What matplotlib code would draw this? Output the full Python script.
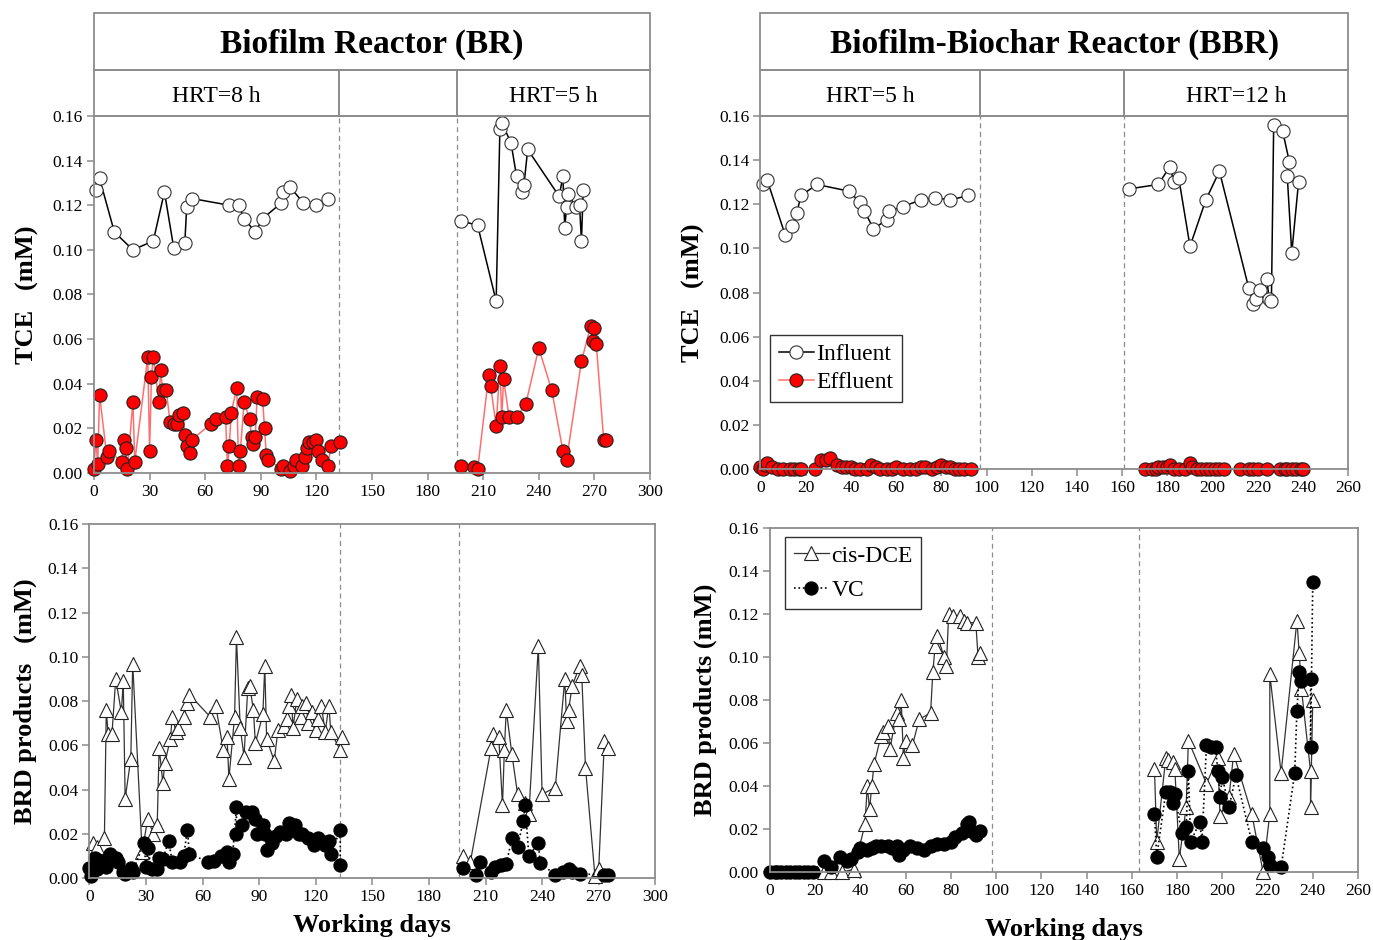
import numpy as np
import matplotlib
matplotlib.use('Agg')
import matplotlib.pyplot as plt
from matplotlib.patches import Rectangle

plt.rcParams['font.family'] = ['Liberation Serif', 'DejaVu Serif']

# ---- Biofilm Reactor (BR), TCE ----
br_inf_days = [1, 3, 11, 21, 32, 38, 43, 49, 50, 53, 73, 78, 81, 87, 91, 101, 102, 106, 113, 120, 126,
               198, 207, 217, 219, 220, 225, 228, 231, 232, 234, 251, 253, 254, 255, 256, 260, 262, 263, 264]
br_inf_vals = [0.127, 0.132, 0.108, 0.100, 0.104, 0.126, 0.101, 0.103, 0.119, 0.123, 0.120, 0.120, 0.114,
               0.108, 0.114, 0.121, 0.126, 0.128, 0.121, 0.120, 0.123,
               0.113, 0.111, 0.077, 0.154, 0.157, 0.148, 0.133, 0.126, 0.129, 0.145, 0.124, 0.133, 0.110,
               0.119, 0.125, 0.119, 0.120, 0.104, 0.127]
br_eff_days = [0, 1, 2, 3, 7, 8, 15, 16, 17, 18, 21, 22, 29, 30, 31, 32, 35, 36, 37, 39, 41, 43, 45, 46,
               48, 49, 50, 52, 53, 63, 66, 71, 72, 73, 74, 77, 78, 79, 81, 84, 85, 86, 87, 88, 91, 92, 93,
               94, 101, 102, 106, 108, 109, 112, 114, 115, 116, 118, 120, 121, 123, 126, 128, 133,
               198, 205, 207, 213, 214, 217, 219, 220, 221, 224, 228, 233, 240, 247, 253, 255, 263, 268,
               269, 270, 271, 275, 276]
br_eff_vals = [0.002, 0.015, 0.004, 0.035, 0.007, 0.010, 0.005, 0.015, 0.011, 0.002, 0.032, 0.005, 0.052,
               0.010, 0.043, 0.052, 0.032, 0.046, 0.037, 0.037, 0.023, 0.022, 0.022, 0.026, 0.027, 0.017,
               0.012, 0.009, 0.015, 0.022, 0.024, 0.025, 0.003, 0.012, 0.027, 0.038, 0.003, 0.010, 0.032,
               0.024, 0.016, 0.013, 0.016, 0.034, 0.033, 0.020, 0.008, 0.006, 0.002, 0.003, 0.001, 0.003,
               0.006, 0.003, 0.007, 0.011, 0.014, 0.014, 0.015, 0.010, 0.006, 0.003, 0.012, 0.014,
               0.003, 0.0025, 0.0016, 0.044, 0.039, 0.021, 0.048, 0.025, 0.042, 0.025, 0.025, 0.031,
               0.056, 0.037, 0.010, 0.006, 0.050, 0.066, 0.059, 0.065, 0.058, 0.015, 0.015]

# ---- Biofilm-Biochar Reactor (BBR), TCE ----
bbr_inf_days = [1, 3, 11, 14, 16, 18, 25, 39, 44, 46, 50, 56, 57, 63, 71, 77, 84, 92,
                163, 176, 181, 183, 185, 190, 197, 203, 216, 218, 219, 221, 224, 225, 226, 227, 231,
                234, 233, 235, 238]
bbr_inf_vals = [0.129, 0.131, 0.106, 0.110, 0.116, 0.124, 0.129, 0.126, 0.121, 0.117, 0.109, 0.113,
                0.117, 0.119, 0.122, 0.123, 0.122, 0.124,
                0.127, 0.129, 0.137, 0.130, 0.132, 0.101, 0.122, 0.135, 0.082, 0.075, 0.077, 0.081,
                0.086, 0.077, 0.076, 0.156, 0.153, 0.139, 0.133, 0.098, 0.130]
bbr_eff_days = [0, 1, 2, 3, 5, 8, 10, 13, 15, 17, 18, 24, 27, 29, 31, 34, 36, 38, 40, 42, 44, 47, 49,
                51, 53, 56, 58, 60, 63, 66, 69, 71, 73, 76, 78, 80, 82, 84, 86, 88, 90, 93,
                170, 173, 175, 176, 178, 180, 181, 183, 185, 188, 190, 191, 193, 195, 197, 199, 201,
                203, 205, 212, 216, 218, 220, 224, 230, 232, 233, 235, 237, 239, 240]
bbr_eff_vals = [0.001, 0.000, 0.002, 0.003, 0.001, 0.000, 0.000, 0.000, 0.000, 0.000, 0.000, 0.000,
                0.004, 0.004, 0.005, 0.002, 0.001, 0.001, 0.001, 0.000, 0.000, 0.000, 0.002, 0.001,
                0.000, 0.000, 0.000, 0.001, 0.000, 0.000, 0.000, 0.001, 0.001, 0.000, 0.001, 0.002,
                0.001, 0.001, 0.000, 0.000, 0.000, 0.000,
                0.000, 0.000, 0.000, 0.001, 0.001, 0.001, 0.002, 0.000, 0.000, 0.000, 0.003, 0.001,
                0.000, 0.000, 0.000, 0.000, 0.000, 0.000, 0.000, 0.000, 0.000, 0.000, 0.000, 0.000,
                0.000, 0.000, 0.000, 0.000, 0.000, 0.000, 0.000]

# ---- BR, BRD products ----
br_dce_days = [2, 4, 8, 9, 10, 12, 14, 17, 18, 19, 22, 23, 28, 31, 34, 36, 37, 39, 40, 43, 44, 46, 47,
               50, 52, 53, 64, 67, 71, 73, 74, 77, 78, 80, 82, 84, 85, 87, 88, 92, 93, 94, 98, 100, 103,
               105, 106, 107, 108, 110, 112, 113, 115, 116, 118, 120, 121, 123, 125, 127, 128, 133, 134,
               198, 202, 213, 214, 217, 219, 220, 221, 224, 227, 231, 233, 238, 240, 247, 252, 253, 254,
               256, 260, 261, 263, 268, 270, 273, 275]
br_dce_vals = [0.016, 0.014, 0.018, 0.076, 0.065, 0.065, 0.090, 0.075, 0.089, 0.036, 0.054, 0.097,
               0.012, 0.027, 0.020, 0.024, 0.059, 0.043, 0.052, 0.063, 0.073, 0.066, 0.068, 0.073,
               0.079, 0.083, 0.073, 0.078, 0.058, 0.064, 0.045, 0.073, 0.109, 0.068, 0.055, 0.086,
               0.087, 0.076, 0.061, 0.074, 0.096, 0.063, 0.053, 0.067, 0.069, 0.072, 0.078, 0.083,
               0.068, 0.081, 0.073, 0.078, 0.079, 0.070, 0.075, 0.067, 0.072, 0.078, 0.066, 0.078,
               0.066, 0.058, 0.064,
               0.010, 0.0075, 0.059, 0.065, 0.064, 0.033, 0.058, 0.076, 0.056, 0.038, 0.034, 0.029,
               0.105, 0.038, 0.041, 0.090, 0.071, 0.076, 0.087, 0.096, 0.092, 0.050, 0.001, 0.004,
               0.062, 0.059]
br_vc_days = [0, 1, 3, 4, 6, 9, 11, 14, 15, 18, 19, 22, 23, 29, 30, 31, 33, 36, 37, 39, 42, 44, 48, 50,
              52, 53, 63, 66, 70, 73, 74, 76, 78, 78, 81, 83, 86, 88, 89, 92, 93, 94, 97, 99, 101, 104,
              106, 109, 111, 113, 116, 119, 121, 123, 125, 127, 128, 133, 133,
              198, 205, 207, 213, 215, 218, 221, 224, 227, 230, 231, 233, 238, 239, 247, 251, 254, 256,
              260, 273, 275]
br_vc_vals = [0.0045, 0.001, 0.009, 0.004, 0.008, 0.005, 0.011, 0.009, 0.0075, 0.003, 0.002, 0.0045,
              0.003, 0.016, 0.005, 0.0135, 0.004, 0.004, 0.009, 0.0085, 0.017, 0.0075, 0.0075, 0.010,
              0.022, 0.011, 0.0075, 0.008, 0.010, 0.012, 0.0075, 0.011, 0.032, 0.020, 0.024, 0.030,
              0.030, 0.027, 0.020, 0.024, 0.020, 0.013, 0.016, 0.019, 0.021, 0.020, 0.025, 0.024,
              0.020, 0.020, 0.018, 0.015, 0.018, 0.017, 0.015, 0.017, 0.011, 0.022, 0.006,
              0.0045, 0.0015, 0.0075, 0.003, 0.005, 0.006, 0.0065, 0.018, 0.014, 0.026, 0.033, 0.010,
              0.016, 0.007, 0.0015, 0.003, 0.004, 0.003, 0.002, 0.0015, 0.0015]

# ---- BBR, BRD products ----
bbr_dce_days = [24, 27, 32, 37, 42, 43, 44, 45, 46, 49, 50, 52, 53, 56, 57, 58, 59, 60, 63, 66, 71, 72,
                73, 74, 77, 78, 79, 81, 84, 86, 87, 91, 92, 93,
                170, 171, 175, 176, 178, 179, 181, 184, 185, 193, 198, 199, 203, 205, 213, 218, 221,
                221, 226, 233, 234, 235, 239, 239, 240]
bbr_dce_vals = [0.000, 0.000, 0.000, 0.001, 0.022, 0.040, 0.029, 0.040, 0.050, 0.063, 0.065, 0.068,
                0.057, 0.074, 0.071, 0.080, 0.053, 0.061, 0.059, 0.071, 0.074, 0.093, 0.105, 0.110,
                0.100, 0.096, 0.120, 0.119, 0.119, 0.117, 0.116, 0.116, 0.100, 0.102,
                0.048, 0.014, 0.053, 0.052, 0.051, 0.048, 0.006, 0.030, 0.061, 0.041, 0.053, 0.026,
                0.035, 0.055, 0.027, 0.000, 0.027, 0.092, 0.046, 0.117, 0.102, 0.085, 0.047, 0.030,
                0.080]
bbr_vc_days = [0, 2, 3, 5, 7, 9, 11, 13, 15, 17, 19, 24, 27, 31, 34, 36, 39, 40, 43, 45, 47, 49, 52, 54,
               56, 57, 59, 62, 65, 68, 71, 74, 77, 80, 82, 85, 87, 88, 89, 91, 93,
               170, 171, 175, 177, 178, 179, 182, 184, 185, 186, 190, 191, 193, 195, 197, 198, 199,
               200, 203, 206, 213, 218, 220, 221, 226, 232, 233, 234, 235, 239, 239, 240]
bbr_vc_vals = [0.000, 0.000, 0.000, 0.000, 0.000, 0.000, 0.000, 0.000, 0.000, 0.000, 0.000, 0.005,
               0.002, 0.007, 0.005, 0.006, 0.009, 0.011, 0.010, 0.011, 0.012, 0.012, 0.012, 0.011,
               0.012, 0.008, 0.010, 0.012, 0.011, 0.010, 0.012, 0.013, 0.013, 0.014, 0.016, 0.018,
               0.022, 0.023, 0.019, 0.017, 0.019,
               0.027, 0.007, 0.037, 0.037, 0.032, 0.036, 0.018, 0.021, 0.047, 0.014, 0.023, 0.014,
               0.059, 0.058, 0.058, 0.047, 0.035, 0.044, 0.030, 0.045, 0.014, 0.011, 0.007, 0.003,
               0.002, 0.046, 0.075, 0.093, 0.089, 0.090, 0.058, 0.135]

# header / period boundaries (working days)
br_bounds = [0, 132, 196, 300]
br_hrt = ['HRT=8 h', '', 'HRT=5 h']
bbr_bounds = [0, 97, 161, 260]
bbr_hrt = ['HRT=5 h', '', 'HRT=12 h']

GRAY = '#8c8c8c'


def with_gaps(days, vals, gap=30):
    d = np.asarray(days, float)
    v = np.asarray(vals, float)
    idx = np.where(np.abs(np.diff(d)) > gap)[0] + 1
    return np.insert(d, idx, np.nan), np.insert(v, idx, np.nan)


def style_axes(ax, xmax, xstep, dashes):
    ax.set_xlim(0, xmax)
    ax.set_ylim(0, 0.16)
    ax.set_xticks(np.arange(0, xmax + 1, xstep))
    ax.set_yticks(np.arange(0, 0.161, 0.02))
    ax.yaxis.set_major_formatter(matplotlib.ticker.FormatStrFormatter('%.2f'))
    for s in ax.spines.values():
        s.set_color(GRAY)
        s.set_linewidth(1.3)
    ax.tick_params(direction='out', length=5, width=1.1, color=GRAY, labelsize=12.5, pad=3)
    for d in dashes:
        ax.axvline(d, color=GRAY, ls=(0, (4, 3)), lw=0.9, zorder=1)


def add_header(fig, ax, title, bounds, labels):
    pos = ax.get_position()
    hax = fig.add_axes([pos.x0, 1 - 116 / 940, pos.width, 103 / 940])
    hax.set_xlim(ax.get_xlim())
    hax.set_ylim(0, 1)
    hax.axis('off')
    split = 46 / 103
    hax.add_patch(Rectangle((bounds[0], split), bounds[-1] - bounds[0], 1 - split, fill=False,
                            ec=GRAY, lw=1.3, clip_on=False))
    hax.text((bounds[0] + bounds[-1]) / 2, (1 + split) / 2 - 0.03, title, ha='center', va='center',
             fontsize=24, fontweight='bold')
    for a, b, lab in zip(bounds[:-1], bounds[1:], labels):
        hax.add_patch(Rectangle((a, 0), b - a, split, fill=False, ec=GRAY, lw=1.3, clip_on=False))
        hax.text((a + b) / 2, split / 2 - 0.035, lab, ha='center', va='center', fontsize=17)


fig = plt.figure(figsize=(13.73, 9.40), dpi=100)
ax1 = fig.add_axes([0.06846, 0.49681, 0.40495, 0.37979])
ax2 = fig.add_axes([0.55382, 0.50074, 0.42818, 0.37585])
ax3 = fig.add_axes([0.06504, 0.06564, 0.41224, 0.37691])
ax4 = fig.add_axes([0.56082, 0.07266, 0.42826, 0.36532])

inf_kw = dict(color='black', lw=1.1, marker='o', ms=9.5, mfc='white', mec='#333333', mew=0.8, clip_on=False)
eff_kw = dict(color='#ff6f6f', lw=1.1, marker='o', ms=9.5, mfc='#ff0000', mec='#222222', mew=0.8, clip_on=False)
dce_kw = dict(color='#333333', lw=0.9, ls='-', marker='^', ms=10, mfc='white', mec='#222222', mew=0.8, clip_on=False)
vc_kw = dict(color='black', lw=1.2, ls=':', marker='o', ms=9.5, mfc='black', mec='black', mew=0.8, clip_on=False)

# TCE panels
ax1.plot(*with_gaps(br_inf_days, br_inf_vals), **inf_kw, label='Influent')
ax1.plot(*with_gaps(br_eff_days, br_eff_vals), **eff_kw, label='Effluent')
ax2.plot(*with_gaps(bbr_inf_days, bbr_inf_vals), **inf_kw, label='Influent')
ax2.plot(*with_gaps(bbr_eff_days, bbr_eff_vals), **eff_kw, label='Effluent')

# BRD product panels
ax3.plot(*with_gaps(br_dce_days, br_dce_vals), **dce_kw, label='cis-DCE')
ax3.plot(*with_gaps(br_vc_days, br_vc_vals), **vc_kw, label='VC')
ax4.plot(*with_gaps(bbr_dce_days, bbr_dce_vals), **dce_kw, label='cis-DCE')
ax4.plot(*with_gaps(bbr_vc_days, bbr_vc_vals), **vc_kw, label='VC')

style_axes(ax1, 300, 30, br_bounds[1:3])
style_axes(ax2, 260, 20, bbr_bounds[1:3])
style_axes(ax3, 300, 30, [133, 196])
style_axes(ax4, 260, 20, [98, 163])

lab_kw = dict(fontsize=19, fontweight='bold')
ax1.set_ylabel('TCE   (mM)', labelpad=10, **lab_kw)
ax2.set_ylabel('TCE   (mM)', labelpad=10, **lab_kw)
ax3.set_ylabel('BRD products   (mM)', labelpad=8, **lab_kw)
ax4.set_ylabel('BRD products (mM)', labelpad=8, **lab_kw)
ax3.set_xlabel('Working days', labelpad=6, **lab_kw)
ax4.set_xlabel('Working days', labelpad=14, **lab_kw)

leg_kw = dict(loc='upper left', fontsize=17, fancybox=False, framealpha=1, edgecolor='#333333',
              handlelength=1.5, handletextpad=0.1, borderpad=0.35, borderaxespad=0)
l1 = ax2.legend(bbox_to_anchor=(0.017, 0.38), labelspacing=0.3, **leg_kw)
l2 = ax4.legend(bbox_to_anchor=(0.026, 0.975), labelspacing=0.55, **leg_kw)
for l in (l1, l2):
    l.get_frame().set_linewidth(1.0)

add_header(fig, ax1, 'Biofilm Reactor (BR)', br_bounds, br_hrt)
add_header(fig, ax2, 'Biofilm-Biochar Reactor (BBR)', bbr_bounds, bbr_hrt)

fig.savefig('out.png', dpi=100)
